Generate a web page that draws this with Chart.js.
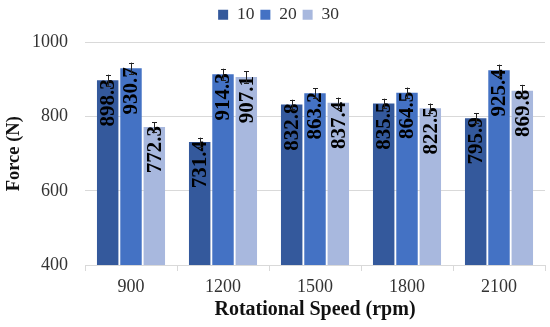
<!DOCTYPE html>
<html>
<head>
<meta charset="utf-8">
<script src="https://cdn.jsdelivr.net/npm/chart.js@4/dist/chart.umd.min.js"></script>
<style>
  html, body { margin: 0; padding: 0; background: #fff; }
  #wrap { width: 550px; height: 327px; position: relative; }
</style>
</head>
<body>
<div id="wrap"><canvas id="c"></canvas></div>
<script>
const categories = ['900', '1200', '1500', '1800', '2100'];
const seriesNames = ['10', '20', '30'];
const values10 = [898.3, 731.4, 832.8, 835.5, 795.9];
const values20 = [930.7, 914.3, 863.2, 864.5, 925.4];
const values30 = [772.3, 907.1, 837.4, 822.5, 869.8];
const errors10 = [15, 12, 13, 13, 14];
const errors20 = [15, 15, 14, 14, 15];
const errors30 = [13, 15, 14, 13, 16];
const yTicks = [400, 600, 800, 1000];

const FONT = "'Liberation Serif', 'Times New Roman', serif";
const colors = ['#34599C', '#4472C4', '#A8B8DE'];
const seriesValues = [values10, values20, values30];
const seriesErrors = [errors10, errors20, errors30];

const legendSpace = {
  id: 'legendSpace',
  beforeLayout(chart) {
    const lg = chart.legend;
    if (lg && !lg._patched) {
      const orig = lg.fit.bind(lg);
      lg.fit = function () { orig(); this.height += 9; };
      lg._patched = true;
    }
  },
  afterLayout(chart) {
    const lg = chart.legend;
    if (lg) { lg.left += 6; lg.right += 6; }
  }
};

const labelsAndErrors = {
  id: 'labelsAndErrors',
  afterDatasetsDraw(chart) {
    const ctx = chart.ctx;
    const yScale = chart.scales.y;
    chart.data.datasets.forEach((ds, di) => {
      const meta = chart.getDatasetMeta(di);
      meta.data.forEach((bar, i) => {
        const v = ds.data[i];
        ctx.save();
        ctx.translate(bar.x, bar.y - 1);
        ctx.rotate(-Math.PI / 2);
        ctx.font = "bold 21px " + FONT;
        ctx.fillStyle = '#000';
        ctx.textAlign = 'right';
        ctx.textBaseline = 'middle';
        ctx.fillText(v.toFixed(1), 0, 1);
        ctx.restore();
      });
    });
    chart.data.datasets.forEach((ds, di) => {
      const meta = chart.getDatasetMeta(di);
      const errs = seriesErrors[di];
      meta.data.forEach((bar, i) => {
        const v = ds.data[i];
        const yTop = yScale.getPixelForValue(v + errs[i]);
        const yBot = yScale.getPixelForValue(v - errs[i]);
        const x = Math.round(bar.x) + 0.5;
        ctx.save();
        ctx.strokeStyle = '#222';
        ctx.lineWidth = 1;
        ctx.beginPath();
        ctx.moveTo(x, yTop); ctx.lineTo(x, yBot);
        ctx.moveTo(x - 2.5, Math.round(yTop) + 0.5); ctx.lineTo(x + 2.5, Math.round(yTop) + 0.5);
        ctx.moveTo(x - 2.5, Math.round(yBot) + 0.5); ctx.lineTo(x + 2.5, Math.round(yBot) + 0.5);
        ctx.stroke();
        ctx.restore();
      });
    });
  }
};

new Chart(document.getElementById('c'), {
  type: 'bar',
  data: {
    labels: categories,
    datasets: seriesNames.map((n, k) => ({
      label: n,
      data: seriesValues[k],
      backgroundColor: colors[k],
      borderWidth: 0,
      barPercentage: 0.92,
      categoryPercentage: 0.76
    }))
  },
  options: {
    responsive: true,
    maintainAspectRatio: false,
    animation: false,
    devicePixelRatio: 1,
    layout: { padding: { left: 0, right: 5, top: 0, bottom: 0 } },
    plugins: {
      legend: {
        position: 'top',
        labels: {
          boxWidth: 10, boxHeight: 10, padding: 6,
          color: '#333',
          font: { family: FONT, size: 17.5 }
        }
      },
      tooltip: { enabled: false }
    },
    scales: {
      x: {
        offset: true,
        grid: { display: true, drawOnChartArea: false, drawTicks: true, tickLength: 6, color: '#D9D9D9', offset: true },
        border: { display: true, color: '#D9D9D9' },
        ticks: { color: '#333', font: { family: FONT, size: 18 }, padding: 5 },
        title: { display: true, text: 'Rotational Speed (rpm)', color: '#111', font: { family: FONT, size: 20, weight: 'bold' }, padding: { top: 0, bottom: 5 } },
        afterFit(s) { s.height = 62; }
      },
      y: {
        min: 400, max: 1000,
        afterBuildTicks(s) { s.ticks = yTicks.map(v => ({ value: v })); },
        grid: { color: '#D9D9D9', drawTicks: false },
        border: { display: false },
        ticks: { color: '#333', font: { family: FONT, size: 18 }, padding: 17, callback: v => String(v) },
        title: { display: true, text: 'Force (N)', color: '#111', font: { family: FONT, size: 18.5, weight: 'bold' }, padding: { top: 3, bottom: 0 } },
        afterFit(s) { s.width = 85; }
      }
    }
  },
  plugins: [legendSpace, labelsAndErrors]
});
</script>
</body>
</html>
